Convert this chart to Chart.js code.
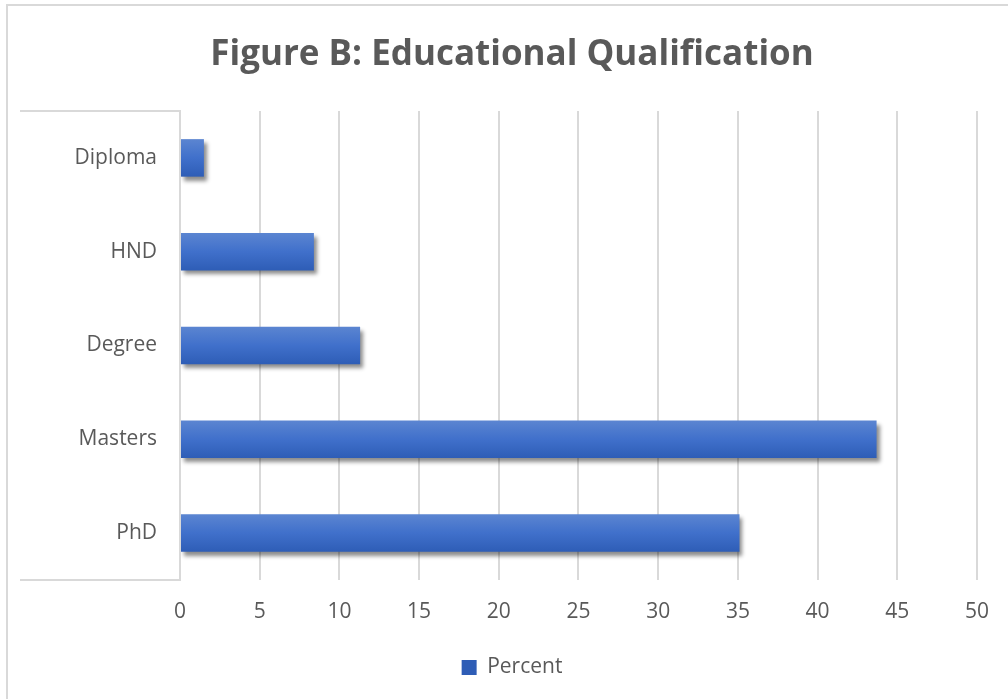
<!DOCTYPE html>
<html>
<head>
<meta charset="utf-8">
<script src="https://cdn.jsdelivr.net/npm/chart.js@4"></script>
<style>
  html, body { margin: 0; padding: 0; background: #fff; }
  #wrap { width: 1008px; height: 699px; position: relative; }
</style>
</head>
<body>
<div id="wrap"><canvas id="eduChart" width="1008" height="699"></canvas></div>
<script>
// data
const categories = ['Diploma', 'HND', 'Degree', 'Masters', 'PhD'];
const percentValues = [1.5, 8.4, 11.3, 43.7, 35.1];
const seriesName = 'Percent';
const chartTitle = 'Figure B: Educational Qualification';

const textGrey = '#595959';
const lineGrey = '#d9d9d9';
const fontName = "'Open Sans', sans-serif";
const barPct = 0.4;

// vertical gradient per bar, worked out from the category scale
function barFill(c) {
    const chart = c.chart;
    const yScale = chart.scales && chart.scales.y;
    if (c.dataIndex === undefined || !yScale || !chart.chartArea) return '#4472c4';
    const mid = yScale.getPixelForValue(c.dataIndex);
    const half = (yScale.height / categories.length) * barPct / 2;
    const g = chart.ctx.createLinearGradient(0, mid - half, 0, mid + half);
    g.addColorStop(0, '#5b85d1');
    g.addColorStop(0.5, '#4070cb');
    g.addColorStop(1, '#2e5db6');
    return g;
}

// soft shadow under the bars
const barShadow = {
    id: 'barShadow',
    beforeDatasetsDraw(chart) {
        const ctx = chart.ctx;
        ctx.save();
        ctx.shadowColor = 'rgba(0,0,0,0.45)';
        ctx.shadowBlur = 4;
        ctx.shadowOffsetX = 3;
        ctx.shadowOffsetY = 4;
    },
    afterDatasetsDraw(chart) {
        chart.ctx.restore();
    }
};

// frame lines: outer chart border and the box round the category labels
const frames = {
    id: 'frames',
    afterDraw(chart) {
        const ctx = chart.ctx;
        const a = chart.chartArea;
        ctx.save();
        ctx.strokeStyle = lineGrey;
        ctx.lineWidth = 2;
        ctx.strokeRect(7, 5, 1020, 720);
        ctx.beginPath();
        ctx.moveTo(20, a.top);
        ctx.lineTo(a.left, a.top);
        ctx.lineTo(a.left, a.bottom);
        ctx.lineTo(20, a.bottom);
        ctx.stroke();
        ctx.restore();
    }
};

document.addEventListener('DOMContentLoaded', function () {
    const ctx = document.getElementById('eduChart').getContext('2d');
    new Chart(ctx, {
        type: 'bar',
        data: {
            labels: categories,
            datasets: [{
                label: seriesName,
                data: percentValues,
                backgroundColor: barFill,
                borderWidth: 0,
                barPercentage: barPct,
                categoryPercentage: 1
            }]
        },
        options: {
            indexAxis: 'y',
            responsive: false,
            animation: false,
            layout: { padding: { left: 47, right: 31, top: 0, bottom: 11 } },
            scales: {
                x: {
                    min: 0,
                    max: 50,
                    ticks: {
                        stepSize: 5,
                        padding: 19,
                        color: textGrey,
                        font: { family: fontName, size: 21 }
                    },
                    grid: { color: lineGrey, lineWidth: 2, drawTicks: false },
                    border: { display: false },
                    afterFit(scale) { scale.height = 67; }
                },
                y: {
                    ticks: {
                        padding: 23,
                        color: textGrey,
                        font: { family: fontName, size: 21 }
                    },
                    grid: { display: false, drawTicks: false },
                    border: { display: false },
                    afterFit(scale) { scale.width = 133; }
                }
            },
            plugins: {
                title: {
                    display: true,
                    text: chartTitle,
                    color: textGrey,
                    font: { family: fontName, size: 35, weight: 'bold' },
                    padding: { top: 34, bottom: 35 }
                },
                legend: {
                    position: 'bottom',
                    labels: {
                        boxWidth: 15,
                        boxHeight: 15,
                        color: textGrey,
                        font: { family: fontName, size: 21 },
                        padding: 10
                    }
                },
                tooltip: { enabled: false }
            }
        },
        plugins: [barShadow, frames]
    });
});
</script>
</body>
</html>
